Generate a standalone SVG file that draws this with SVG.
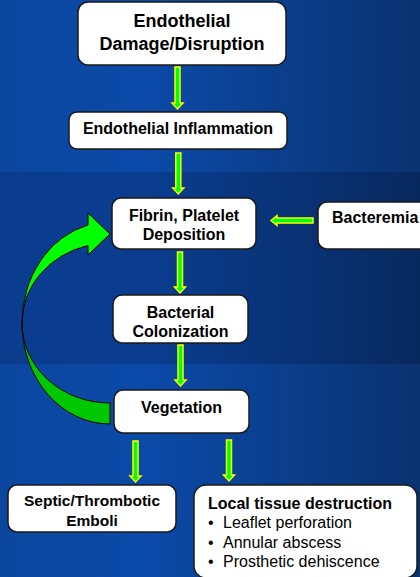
<svg xmlns="http://www.w3.org/2000/svg" width="420" height="577" viewBox="0 0 420 577">
  <defs>
    <linearGradient id="bgA" x1="0" y1="0" x2="1" y2="0">
      <stop offset="0" stop-color="#0B479F"/>
      <stop offset="0.35" stop-color="#0B4AA8"/>
      <stop offset="1" stop-color="#0A3270"/>
    </linearGradient>
    <linearGradient id="bgB" x1="0" y1="0" x2="1" y2="0">
      <stop offset="0" stop-color="#0A3D8E"/>
      <stop offset="0.35" stop-color="#0A3D90"/>
      <stop offset="1" stop-color="#08295E"/>
    </linearGradient>
    <style>
      .box { fill: #FFFFFF; stroke: #1A1A1A; stroke-width: 1.5; }
      .t { font-family: "Liberation Sans", Arial, sans-serif; font-weight: bold; fill: #000000; text-anchor: middle; }
      .r { font-family: "Liberation Sans", Arial, sans-serif; fill: #000000; font-size: 16px; }
      .arr { fill: #00FF00; stroke: #FFFF00; stroke-width: 1.5; stroke-linejoin: miter; }
      .loopTop { fill: #00FF00; stroke: #000000; stroke-width: 1; }
      .loopBot { fill: #00C800; stroke: #000000; stroke-width: 1; }
    </style>
  </defs>

  <!-- background -->
  <rect x="0" y="0" width="420" height="577" fill="url(#bgA)"/>
  <rect x="0" y="172" width="420" height="192" fill="url(#bgB)"/>

  <!-- connectors -->
  <g id="connectors">
    <polygon class="arr" points="175,67 180,67 180,103 183,103 177.5,109 172,103 175,103"/>
    <polygon class="arr" points="175.8,153 180.8,153 180.8,188 183.8,188 178.3,194 172.8,188 175.8,188"/>
    <polygon class="arr" points="177.5,252 182.5,252 182.5,287 185.5,287 180,293 174.5,287 177.5,287"/>
    <polygon class="arr" points="178,345 183,345 183,380 186,380 180.5,386 175,380 178,380"/>
    <polygon class="arr" points="133,441 138,441 138,476 141,476 135.5,482 130,476 133,476"/>
    <polygon class="arr" points="226.5,440 231.5,440 231.5,475 234.5,475 229,481 223.5,475 226.5,475"/>
    <polygon class="arr" points="313,218 313,223 277,223 277,225.5 271,220.5 277,215.5 277,218"/>
    <!-- feedback loop arrow -->
    <path class="loopBot" d="M22,323 A88,101 0 0 0 110,424 L110,403 A88,80 0 0 1 22,323 Z"/>
    <path class="loopTop" d="M22,323 A88,101 0 0 1 88,225 L88,213 L110,234 L88,255 L88,245.5 A88,80 0 0 0 22,323 Z"/>
  </g>

  <g id="node-damage">
    <rect class="box" x="78" y="2" width="208" height="63" rx="10"/>
    <text class="t" x="182" y="27" font-size="18">Endothelial</text>
    <text class="t" x="182" y="50" font-size="18">Damage/Disruption</text>
  </g>

  <g id="node-inflammation">
    <rect class="box" x="69" y="112" width="218" height="37" rx="8"/>
    <text class="t" x="178" y="134" font-size="16">Endothelial Inflammation</text>
  </g>

  <g id="node-fibrin">
    <rect class="box" x="112" y="198" width="144" height="51" rx="9"/>
    <text class="t" x="184" y="221" font-size="16">Fibrin, Platelet</text>
    <text class="t" x="184" y="239.5" font-size="16">Deposition</text>
  </g>

  <g id="node-bacteremia">
    <rect class="box" x="318" y="202" width="130" height="47" rx="9"/>
    <text class="t" x="332" y="223" font-size="16" style="text-anchor:start">Bacteremia</text>
  </g>

  <g id="node-colonization">
    <rect class="box" x="113" y="295" width="135" height="48" rx="9"/>
    <text class="t" x="180.5" y="318" font-size="16">Bacterial</text>
    <text class="t" x="180.5" y="337" font-size="16">Colonization</text>
  </g>

  <g id="node-vegetation">
    <rect class="box" x="114" y="390" width="135" height="43" rx="9"/>
    <text class="t" x="181.5" y="413" font-size="16">Vegetation</text>
  </g>

  <g id="node-emboli">
    <rect class="box" x="8" y="485" width="168" height="47" rx="9"/>
    <text class="t" x="92" y="506" font-size="15.5">Septic/Thrombotic</text>
    <text class="t" x="92" y="526" font-size="15.5">Emboli</text>
  </g>

  <g id="node-local">
    <rect class="box" x="194" y="485" width="223" height="93" rx="12"/>
    <text class="t" x="208" y="509" font-size="16" style="text-anchor:start">Local tissue destruction</text>
    <text class="r" x="208" y="528">•</text>
    <text class="r" x="223" y="528">Leaflet perforation</text>
    <text class="r" x="208" y="548">•</text>
    <text class="r" x="223" y="548">Annular abscess</text>
    <text class="r" x="208" y="567">•</text>
    <text class="r" x="223" y="567">Prosthetic dehiscence</text>
  </g>
</svg>
